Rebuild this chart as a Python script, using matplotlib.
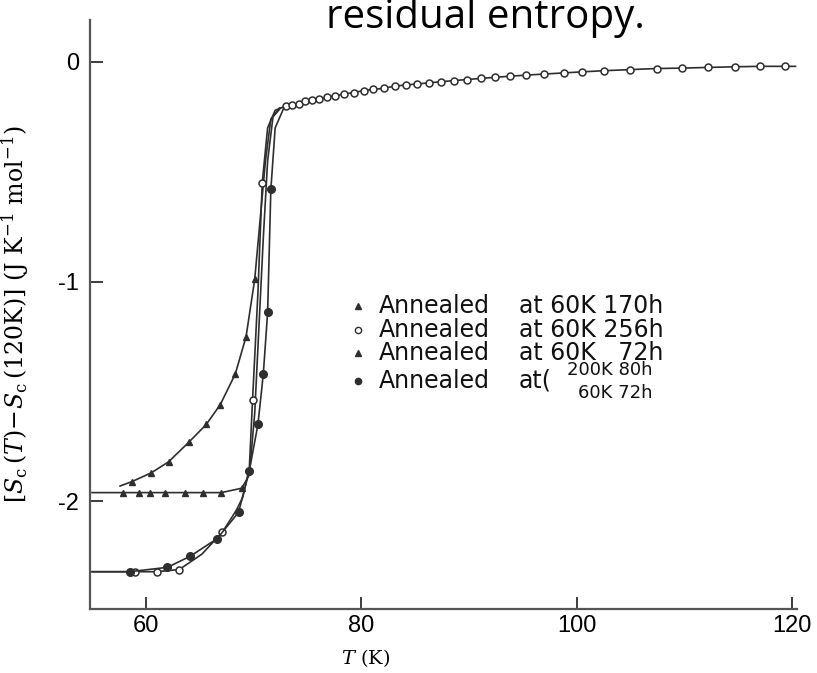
import matplotlib
matplotlib.use("Agg")
from matplotlib import pyplot as plt

plt.rcParams['axes.unicode_minus'] = False
plt.rcParams['mathtext.fontset'] = 'dejavuserif'

# Annealed at 60K 170h (triangles)
t_170 = [57.6, 58.7, 60.5, 62.1, 64.0, 65.6, 66.9, 68.3, 69.3, 70.1, 70.6, 71.1, 71.6, 72.4]
s_170 = [-1.93, -1.91, -1.87, -1.82, -1.73, -1.65, -1.56, -1.42, -1.25, -0.99, -0.72, -0.45, -0.26, -0.21]

# Annealed at 60K 72h (triangles, flat plateau)
t_72 = [55.0, 57.9, 59.4, 60.4, 61.8, 63.6, 65.3, 67.0, 68.9, 69.6, 70.1, 70.5, 70.9, 71.3, 71.8, 72.5]
s_72 = [-1.96, -1.96, -1.96, -1.96, -1.96, -1.96, -1.96, -1.96, -1.94, -1.88, -1.6, -1.2, -0.8, -0.45, -0.25, -0.21]

# Annealed at 60K 256h (open circles), low and high temperature parts
t_256 = [55.0, 59.0, 61.0, 63.1, 65.2, 67.1, 68.4, 69.0, 69.6, 69.9, 70.4, 70.8, 71.3, 72.0,
         73.0, 73.6, 74.2, 74.8, 75.4, 76.1, 76.8, 77.6, 78.4, 79.3, 80.2, 81.1, 82.1, 83.1,
         84.1, 85.2, 86.3, 87.4, 88.6, 89.8, 91.1, 92.4, 93.8, 95.3, 97.0, 98.8, 100.5,
         102.5, 104.9, 107.4, 109.8, 112.2, 114.7, 117.0, 119.3, 120.3]
s_256 = [-2.32, -2.32, -2.32, -2.31, -2.24, -2.14, -2.04, -1.98, -1.85, -1.54, -1.05, -0.55, -0.3, -0.22,
         -0.2, -0.195, -0.19, -0.18, -0.175, -0.17, -0.16, -0.155, -0.145, -0.14, -0.13, -0.125, -0.12, -0.11,
         -0.105, -0.1, -0.095, -0.09, -0.085, -0.08, -0.075, -0.07, -0.065, -0.06, -0.055, -0.05, -0.045,
         -0.04, -0.035, -0.03, -0.028, -0.025, -0.022, -0.02, -0.02, -0.02]

# Annealed at 200K 80h + 60K 72h (filled dots)
t_200 = [55.0, 58.5, 62.0, 64.1, 66.6, 68.6, 69.6, 70.4, 70.9, 71.3, 71.6, 72.0, 72.8]
s_200 = [-2.32, -2.32, -2.30, -2.25, -2.17, -2.05, -1.86, -1.65, -1.42, -1.14, -0.58, -0.3, -0.21]

x_ticks = [60, 80, 100, 120]
y_ticks = [0, -1, -2]
y_ticklabels = ['0', '-1', '-2']

# legend rows (drawn by hand because of the stacked last entry)
leg_y = [-1.11, -1.22, -1.325, -1.45]
leg_marker = ['^', 'o', '^', 'o']
leg_face = ['fill', 'white', 'fill', 'fill']
leg_rest = ['at 60K 170h', 'at 60K 256h', 'at 60K   72h', 'at(']
leg_stack = ['200K 80h', '60K 72h']

ink = '#2e2e2e'
fig = plt.figure(figsize=(8.17, 6.73), dpi=100)
ax = fig.add_axes([0.110, 0.095, 0.865, 0.875])

ax.plot(t_170, s_170, color=ink, lw=1.2, marker='^', ms=5, markevery=list(range(1, 10)),
        mfc=ink, mec=ink)
ax.plot(t_72, s_72, color=ink, lw=1.2, marker='^', ms=4.5, markevery=list(range(1, 9)),
        mfc=ink, mec=ink)
ax.plot(t_256, s_256, color=ink, lw=1.2, marker='o', ms=5,
        markevery=[1, 2, 3, 5, 9, 11] + list(range(14, 49)), mfc='white', mec=ink, mew=1.1)
ax.plot(t_200, s_200, color=ink, lw=1.2, marker='o', ms=5.5, markevery=list(range(1, 11)),
        mfc=ink, mec=ink)

ax.set_xlim(54.8, 120.4)
ax.set_ylim(-2.49, 0.19)
ax.spines['top'].set_visible(False)
ax.spines['right'].set_visible(False)
for side in ['left', 'bottom']:
    ax.spines[side].set_linewidth(1.6)
    ax.spines[side].set_color('#555555')

ax.set_xticks(x_ticks)
ax.set_yticks(y_ticks)
ax.set_yticklabels(y_ticklabels)
ax.tick_params(direction='in', length=9, width=1.3, color=ink, labelsize=17, pad=4)
ax.tick_params(axis='y', pad=8)
for lab in ax.get_xticklabels() + ax.get_yticklabels():
    lab.set_family('Liberation Sans')

ax.set_xlabel(r'$T$ (K)', family='DejaVu Serif', fontsize=14)
ax.xaxis.set_label_coords(0.39, -0.065)
ax.set_ylabel(r'$[S_{\rm c}\,(T)\!-\!S_{\rm c}\,(120{\rm K})]\ ({\rm J\ K^{-1}\ mol^{-1}})$',
              fontsize=17)
ax.yaxis.set_label_coords(-0.083, 0.5)

txt = dict(fontsize=17, va='center', family='DejaVu Sans', color='#111111')
for y, m, f, rest in zip(leg_y, leg_marker, leg_face, leg_rest):
    ax.plot([79.7], [y], marker=m, ms=4.5, mfc=(ink if f == 'fill' else f), mec=ink, ls='none')
    ax.text(81.6, y, 'Annealed', **txt)
    ax.text(94.6, y, rest, **txt)
small = dict(fontsize=13, va='center', ha='right', family='DejaVu Sans', color='#111111')
ax.text(107.0, -1.40, leg_stack[0], **small)
ax.text(107.0, -1.505, leg_stack[1], **small)

fig.text(0.594, 0.958, 'residual entropy.', fontsize=29, ha='center', va='baseline',
         family='Open Sans')

plt.savefig('out.png')
